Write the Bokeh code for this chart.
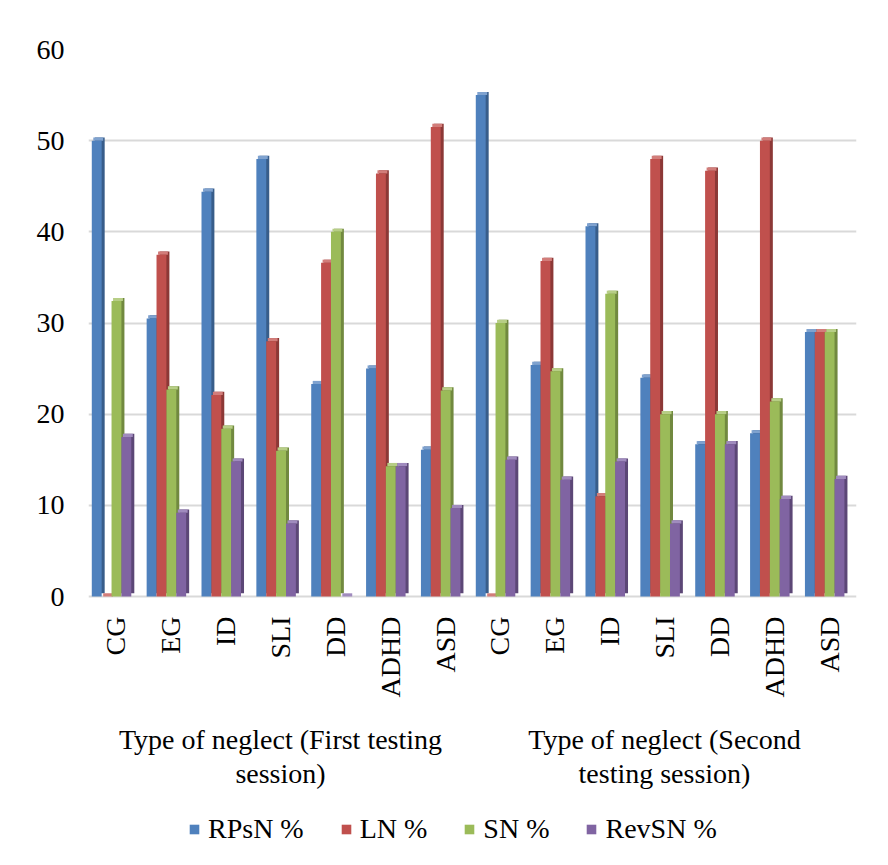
import math
from bokeh.plotting import figure
from bokeh.models import (ColumnDataSource, FactorRange, Range1d, FixedTicker,
                          Legend, LegendItem)
from bokeh.core.properties import value
from bokeh.transform import dodge
from bokeh.embed import file_html
from bokeh.resources import INLINE

sessions = ["First", "Second"]
session_labels = ["Type of neglect (First testing\nsession)",
                  "Type of neglect (Second\ntesting session)"]
groups = ["CG", "EG", "ID", "SLI", "DD", "ADHD", "ASD"]

rpsn = [50, 30.5, 44.4, 48, 23.3, 25, 16.1,
        55, 25.4, 40.6, 24, 16.7, 17.9, 29]
ln = [0, 37.5, 22.1, 28, 36.6, 46.4, 51.5,
      0, 36.8, 11, 48, 46.7, 50, 29]
sn = [32.4, 22.7, 18.4, 16, 40, 14.3, 22.6,
      30, 24.7, 33.2, 20, 20, 21.4, 29]
revsn = [17.5, 9.2, 14.8, 8, 0, 14.3, 9.7,
         15, 12.8, 14.8, 8, 16.7, 10.7, 12.9]

series_names = ["RPsN %", "LN %", "SN %", "RevSN %"]
series_values = [rpsn, ln, sn, revsn]
front_colors = ["#4F81BD", "#C0504D", "#9BBB59", "#8064A2"]
side_colors = ["#385D8A", "#8C3836", "#71893F", "#5C4776"]
top_colors = ["#7FA2CF", "#D27D7A", "#B7CE86", "#A08BBE"]

factors = [(s, g) for s in sessions for g in groups]

FONT = "Liberation Serif"

# layout (pixels)
FRAME_TOP_PAD = 49
PX_PER_UNIT = 547 / 60.0
BOTTOM_PX = 253
y_min = -BOTTOM_PX / PX_PER_UNIT

p = figure(width=872, height=849, x_range=FactorRange(*factors, group_padding=0),
           y_range=Range1d(y_min, 60), output_backend="svg", toolbar_location=None,
           x_axis_location=None,
           min_border_left=88, min_border_right=16, min_border_top=FRAME_TOP_PAD,
           min_border_bottom=0)

p.outline_line_color = None
p.background_fill_color = "white"
p.border_fill_color = "white"

bar_w = 0.18
offsets = [-0.35, -0.17, 0.01, 0.19]
depth_x = 0.055
depth_y = 0.35

items = []
for name, vals, fc, sc, tc, off in zip(series_names, series_values, front_colors,
                                        side_colors, top_colors, offsets):
    src = ColumnDataSource(dict(
        x=factors,
        v=vals,
        vb=[depth_y] * len(vals),
        vt=[v + depth_y for v in vals],
    ))
    p.vbar(x=dodge("x", off + depth_x, range=p.x_range), bottom="vb", top="vt",
           width=bar_w, source=src, fill_color=sc, line_color=None)
    p.vbar(x=dodge("x", off + depth_x / 2, range=p.x_range), bottom="v", top="vt",
           width=bar_w, source=src, fill_color=tc, line_color=None)
    r = p.vbar(x=dodge("x", off, range=p.x_range), top="v", width=bar_w,
               source=src, fill_color=fc, line_color=None)
    items.append(LegendItem(label=name, renderers=[r]))

# grid
p.xgrid.grid_line_color = None
p.ygrid.grid_line_color = "#D9D9D9"
p.ygrid.grid_line_width = 2

# y axis
p.yaxis.ticker = FixedTicker(ticks=[0, 10, 20, 30, 40, 50, 60])
p.yaxis.axis_line_color = None
p.yaxis.major_tick_line_color = None
p.yaxis.minor_tick_line_color = None
p.yaxis.major_tick_out = 0
p.yaxis.major_label_standoff = 24
p.yaxis.major_label_text_font = FONT
p.yaxis.major_label_text_font_size = "28px"
p.yaxis.major_label_text_color = "black"

# category labels (rotated)
cat_src = ColumnDataSource(dict(x=factors, label=[g for s, g in factors],
                                y=[-20 / PX_PER_UNIT] * len(factors)))
p.text(x="x", y="y", text="label", source=cat_src, angle=math.pi / 2,
       text_align="right", text_baseline="middle",
       text_font=value(FONT), text_font_size="28px", text_color="black")

# session (group) labels
grp_src = ColumnDataSource(dict(x=[(s, "SLI") for s in sessions],
                                label=session_labels,
                                y=[-127 / PX_PER_UNIT] * len(sessions)))
p.text(x="x", y="y", text="label", source=grp_src,
       text_align="center", text_baseline="top", text_line_height=1.12,
       text_font=value(FONT), text_font_size="28px", text_color="black")

legend = Legend(items=items, orientation="horizontal", location=(100, 4),
                label_text_font=FONT, label_text_font_size="28px",
                label_text_color="black", glyph_width=12, glyph_height=12,
                label_standoff=8, spacing=36, border_line_color=None,
                background_fill_alpha=0, padding=6, margin=0)
p.add_layout(legend, "center")

open("out.html", "w").write(file_html(p, INLINE))
